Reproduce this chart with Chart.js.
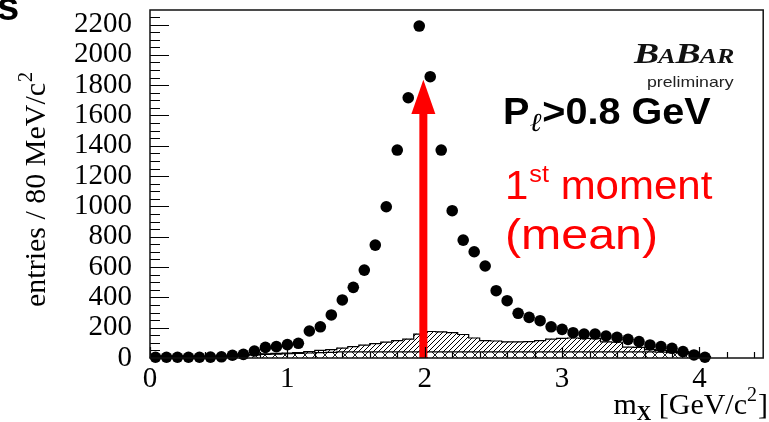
<!DOCTYPE html>
<html><head><meta charset="utf-8">
<script src="https://cdn.jsdelivr.net/npm/chart.js@4.4.1/dist/chart.umd.min.js"></script>
<style>html,body{margin:0;padding:0;background:#fff;}#wrap{width:769px;height:422px;}</style>
</head><body><div id="wrap"><canvas id="c" width="769" height="422"></canvas></div>
<script>
// ---- data ----
const massBins = [0.04,0.12,0.20,0.28,0.36,0.44,0.52,0.60,0.68,0.76,0.84,0.92,1.00,1.08,1.16,1.24,1.32,1.40,1.48,1.56,1.64,1.72,1.80,1.88,1.96,2.04,2.12,2.20,2.28,2.36,2.44,2.52,2.60,2.68,2.76,2.84,2.92,3.00,3.08,3.16,3.24,3.32,3.40,3.48,3.56,3.64,3.72,3.80,3.88,3.96,4.04];
const entries = [5,5,5,5,5,6,8,18,24,46,70,75,88,97,178,206,284,383,466,580,745,998,1372,1717,2190,1856,1372,972,778,701,607,444,378,295,268,246,206,189,167,158,158,145,136,123,108,86,75,64,42,20,5];
const bgLower = [0,0,0,0,0,2,4,8,14,20,24,26,28,30,33,35,37,40,40,40,40,40,40,40,40,40,40,40,40,40,40,40,40,40,40,40,40,40,40,40,40,40,40,40,40,40,38,36,34,30,10];
const bgUpper = [0,0,0,0,2,2,2,2,4,4,4,4,4,5,9,15,18,25,35,45,55,65,75,85,118,135,132,128,115,92,75,72,66,66,68,74,85,90,92,90,88,66,64,32,30,15,10,8,8,8,0];
const binWidth = 0.08;
const xTickLabels = [0,1,2,3,4];
const yTickLabels = [0,200,400,600,800,1000,1200,1400,1600,1800,2000,2200];
const arrowX = 1.99, arrowTip = 1835, arrowHeadBase = 1610;

// ---- patterns ----
function makeHatch(){
  const c=document.createElement('canvas'); c.width=5; c.height=5;
  const g=c.getContext('2d'); g.fillStyle='#fff'; g.fillRect(0,0,5,5);
  g.strokeStyle='#000'; g.lineWidth=1;
  g.beginPath(); g.moveTo(-1,6); g.lineTo(6,-1); g.stroke();
  return g.createPattern(c,'repeat');
}
function makeCross(){
  const c=document.createElement('canvas'); c.width=10; c.height=10;
  const g=c.getContext('2d'); g.fillStyle='#fff'; g.fillRect(0,0,10,10);
  g.strokeStyle='#000'; g.lineWidth=0.9;
  g.beginPath(); g.moveTo(0,0); g.lineTo(10,10); g.moveTo(0,10); g.lineTo(10,0); g.stroke();
  return g.createPattern(c,'repeat');
}

const lowerBars = massBins.map((x,i)=>({x, y:[0,bgLower[i]]}));
const upperBars = massBins.map((x,i)=>({x, y:[bgLower[i], bgLower[i]+bgUpper[i]]}));
function outline(vals){
  const pts=[{x:massBins[0]-binWidth/2,y:0}];
  massBins.forEach((x,i)=>{pts.push({x:x-binWidth/2,y:vals[i]});pts.push({x:x+binWidth/2,y:vals[i]});});
  pts.push({x:massBins[massBins.length-1]+binWidth/2,y:0});
  return pts;
}
const totalOutline = outline(bgLower.map((v,i)=>v+bgUpper[i]));
const lowerOutline = outline(bgLower);

const SERIF = '"Liberation Serif","Times New Roman",serif';
const SANS = '"Liberation Sans",Arial,sans-serif';

function txt(ctx, s, x, y, font, color, hs){
  ctx.save(); ctx.font=font; ctx.fillStyle=color||'#000'; ctx.textBaseline='alphabetic'; ctx.textAlign='left';
  ctx.translate(x,y); ctx.scale(hs||1,1); ctx.fillText(s,0,0);
  const w=ctx.measureText(s).width*(hs||1); ctx.restore(); return w;
}

const deco = {
  id:'deco',
  beforeDatasetDraw(chart,args){
    if(args.index!==0) return;
    const {ctx,scales:{x,y}}=chart;
    const px=x.getPixelForValue(arrowX), tip=y.getPixelForValue(arrowTip), hb=y.getPixelForValue(arrowHeadBase), b=y.getPixelForValue(0);
    ctx.save(); ctx.fillStyle='#ff0000';
    ctx.fillRect(px-4, hb-1, 8, b-hb+1);
    ctx.beginPath(); ctx.moveTo(px,tip); ctx.lineTo(px-12,hb); ctx.lineTo(px+12,hb); ctx.closePath(); ctx.fill();
    ctx.restore();
  },
  afterDraw(chart){
    const {ctx,chartArea:a,scales:{x,y}}=chart;
    ctx.save();
    ctx.strokeStyle='#000'; ctx.lineWidth=1.2; ctx.beginPath();
    for(let v=0; v<=2250; v+=50){
      const py=Math.round(y.getPixelForValue(v))+0.5; const L=(v%200===0)?19:10;
      ctx.moveTo(a.left,py); ctx.lineTo(a.left+L,py);
    }
    for(let v=0; v<=4.41; v+=0.2){
      const pxx=Math.round(x.getPixelForValue(v))+0.5; const major=Math.abs(v-Math.round(v))<1e-6; const L=major?11:6;
      ctx.moveTo(pxx,a.bottom); ctx.lineTo(pxx,a.bottom-L);
    }
    ctx.stroke();
    ctx.lineWidth=1.5; ctx.strokeStyle='#111';
    ctx.strokeRect(a.left, a.top, a.right-a.left, a.bottom-a.top);
    ctx.restore();

    txt(ctx,'s',-3,20,'bold 40px '+SANS,'#000');

    ctx.save(); ctx.translate(45,307); ctx.rotate(-Math.PI/2);
    ctx.font='30px '+SERIF; ctx.fillStyle='#000'; ctx.textBaseline='alphabetic';
    const s1='entries / 80 MeV/c'; ctx.fillText(s1,0,0); const w1=ctx.measureText(s1).width;
    ctx.font='20px '+SERIF; ctx.fillText('2',w1+1,-13);
    ctx.restore();

    ctx.save(); ctx.font='30px '+SERIF;
    const wm=ctx.measureText('m').width; ctx.font='bold 20px '+SERIF; const wx=ctx.measureText('X').width;
    ctx.font='30px '+SERIF; const wg=ctx.measureText(' [GeV/c').width; const wb=ctx.measureText(']').width;
    ctx.font='20px '+SERIF; const w2=ctx.measureText('2').width;
    let sx=768-(wm+wx+wg+w2+1+wb), by=414;
    ctx.restore();
    sx+=txt(ctx,'m',sx,by,'30px '+SERIF);
    sx+=txt(ctx,'X',sx,by+6,'bold 20px '+SERIF);
    sx+=txt(ctx,' [GeV/c',sx,by,'30px '+SERIF);
    sx+=txt(ctx,'2',sx,by-13,'20px '+SERIF)+1;
    txt(ctx,']',sx,by,'30px '+SERIF);

    let lx=634; const ly=63, hs=1.3;
    lx+=txt(ctx,'B',lx,ly,'italic bold 29px '+SERIF,'#111',hs);
    lx+=txt(ctx,'A',lx-1,ly,'italic bold 20px '+SERIF,'#111',hs)-1;
    lx+=txt(ctx,'B',lx,ly,'italic bold 29px '+SERIF,'#111',hs);
    lx+=txt(ctx,'AR',lx-1,ly,'italic bold 20px '+SERIF,'#111',hs);
    txt(ctx,'preliminary',647,87,'15px '+SANS,'#222',1.18);

    let px2=503; const pb=124;
    px2+=txt(ctx,'P',px2,pb,'bold 36px '+SANS,'#000',1.1);
    px2+=txt(ctx,'\u2113',px2,pb+7,'italic 26px '+SERIF,'#000',1.1);
    txt(ctx,'>0.8 GeV',px2+1,pb,'bold 36px '+SANS,'#000',1.1);

    let mx=505; const mb=199;
    mx+=txt(ctx,'1',mx,mb,'40px '+SANS,'#ff0000',1.05);
    mx+=txt(ctx,'st',mx+1,mb-17,'24px '+SANS,'#ff0000',1.05);
    txt(ctx,' moment',mx+1,mb,'40px '+SANS,'#ff0000',1.05);
    txt(ctx,'(mean)',505,249,'42px '+SANS,'#ff0000',1.15);
  }
};

new Chart(document.getElementById('c'),{
  data:{datasets:[
    {type:'scatter',label:'data',data:massBins.map((x,i)=>({x,y:entries[i]})),pointRadius:5.8,pointHoverRadius:5.8,pointBackgroundColor:'#000',pointBorderWidth:0,borderColor:'#000',clip:false,order:0},
    {type:'line',label:'total outline',data:totalOutline,borderColor:'#000',borderWidth:1.2,pointRadius:0,fill:false,tension:0,order:1},
    {type:'line',label:'lower outline',data:lowerOutline,borderColor:'#000',borderWidth:1.2,pointRadius:0,fill:false,tension:0,order:1},
    {type:'bar',label:'bg upper',data:upperBars,backgroundColor:makeHatch(),borderWidth:0,grouped:false,barPercentage:1,categoryPercentage:1,order:2},
    {type:'bar',label:'bg lower',data:lowerBars,backgroundColor:makeCross(),borderWidth:0,grouped:false,barPercentage:1,categoryPercentage:1,order:2}
  ]},
  options:{
    responsive:false, animation:false, events:[],
    layout:{padding:{top:10,right:3,left:0,bottom:0}},
    plugins:{legend:{display:false},tooltip:{enabled:false}},
    scales:{
      x:{type:'linear',min:0,max:4.464,offset:false,
        grid:{display:false,drawTicks:false,offset:false},border:{display:false},
        ticks:{includeBounds:false,stepSize:1,padding:4,color:'#000',font:{family:SERIF,size:29},maxRotation:0,autoSkip:false,
          callback:(v)=>xTickLabels.includes(v)?String(v):''},
        afterFit:(s)=>{s.height=64;s.paddingLeft=0;s.paddingRight=0;}},
      y:{type:'linear',min:0,max:2296,
        grid:{display:false,drawTicks:false},border:{display:false},
        ticks:{includeBounds:false,stepSize:200,padding:18,color:'#000',font:{family:SERIF,size:29},autoSkip:false,
          callback:(v)=>yTickLabels.includes(v)?String(v):''},
        afterFit:(s)=>{s.width=150;s.paddingTop=0;s.paddingBottom=0;}}
    }
  },
  plugins:[deco]
});
</script></body></html>
